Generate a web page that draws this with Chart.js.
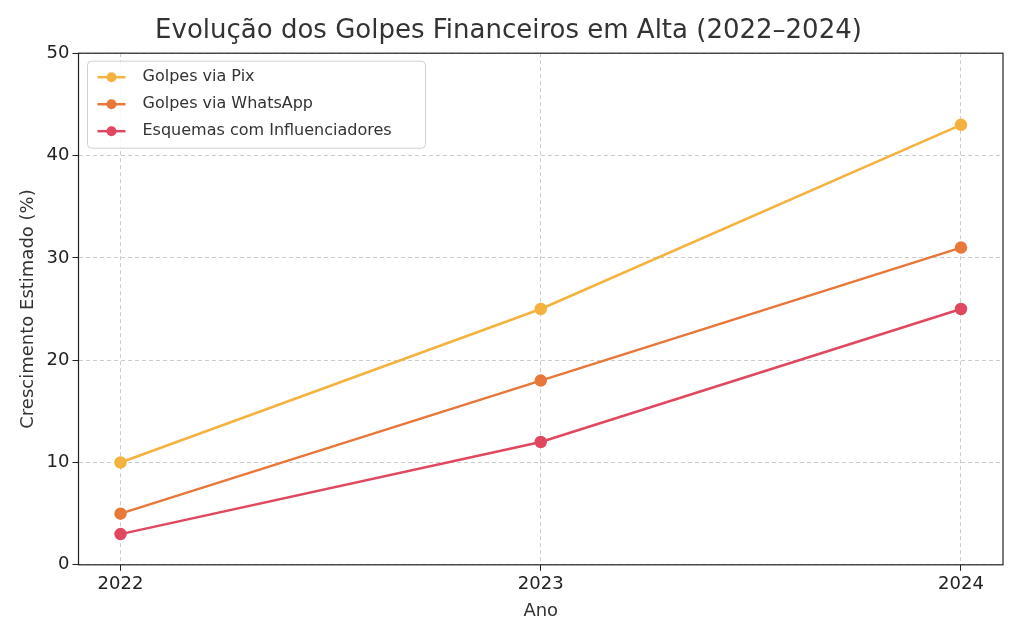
<!DOCTYPE html>
<html>
<head>
<meta charset="utf-8">
<script src="https://cdn.jsdelivr.net/npm/chart.js@4.4.0/dist/chart.umd.min.js"></script>
<style>
  html, body { margin: 0; padding: 0; background: #fff; }
  #wrap { width: 1024px; height: 634px; }
</style>
</head>
<body>
<div id="wrap"><canvas id="chart"></canvas></div>
<script>
// Data
const years = [2022, 2023, 2024];
const pixValues = [10, 25, 43];
const whatsappValues = [5, 18, 31];
const influencerValues = [3, 12, 25];
const seriesLabels = ['Golpes via Pix', 'Golpes via WhatsApp', 'Esquemas com Influenciadores'];
const seriesColors = ['#F4B23E', '#E8773A', '#E0485F'];

const FONT = "'DejaVu Sans', sans-serif";

function toPoints(values) {
  return years.map((y, i) => ({ x: y, y: values[i] }));
}

// Legend box inside the plot, top left
const boxLegend = {
  id: 'boxLegend',
  afterDraw(chart) {
    const { ctx, chartArea } = chart;
    const x0 = chartArea.left + 9, y0 = chartArea.top + 8;
    const w = 338, rowH = 27, h = rowH * chart.data.datasets.length + 6;
    ctx.save();
    ctx.fillStyle = 'rgba(255,255,255,0.85)';
    ctx.strokeStyle = '#d0d0d0';
    ctx.lineWidth = 1;
    ctx.beginPath();
    ctx.roundRect(x0, y0, w, h, 4);
    ctx.fill();
    ctx.stroke();
    ctx.font = `16px ${FONT}`;
    ctx.textBaseline = 'middle';
    chart.data.datasets.forEach((ds, i) => {
      const cy = y0 + 16 + i * rowH;
      ctx.strokeStyle = ds.borderColor;
      ctx.lineWidth = 2.5;
      ctx.beginPath();
      ctx.moveTo(x0 + 10, cy);
      ctx.lineTo(x0 + 38, cy);
      ctx.stroke();
      ctx.fillStyle = ds.borderColor;
      ctx.beginPath();
      ctx.arc(x0 + 24, cy, 5, 0, Math.PI * 2);
      ctx.fill();
      ctx.fillStyle = '#333';
      ctx.fillText(ds.label, x0 + 55, cy);
    });
    ctx.restore();
  }
};

// Black frame around the plot
const frame = {
  id: 'frame',
  afterDatasetsDraw(chart) {
    const { ctx, chartArea: a } = chart;
    ctx.save();
    ctx.strokeStyle = '#222';
    ctx.lineWidth = 1.2;
    ctx.strokeRect(a.left, a.top, a.right - a.left, a.bottom - a.top);
    ctx.restore();
  }
};

new Chart(document.getElementById('chart'), {
  type: 'line',
  data: {
    datasets: [pixValues, whatsappValues, influencerValues].map((v, i) => ({
      label: seriesLabels[i],
      data: toPoints(v),
      borderColor: seriesColors[i],
      backgroundColor: seriesColors[i],
      borderWidth: 2.5,
      pointRadius: 5,
      pointHoverRadius: 5,
      tension: 0
    }))
  },
  options: {
    responsive: true,
    maintainAspectRatio: false,
    animation: false,
    layout: { padding: { left: 14, right: 21, top: 12, bottom: 8 } },
    plugins: {
      legend: { display: false },
      tooltip: { enabled: false },
      title: {
        display: true,
        text: 'Evolução dos Golpes Financeiros em Alta (2022–2024)',
        color: '#333',
        font: { family: FONT, size: 26, weight: 'normal' },
        padding: { top: 4, bottom: 6 }
      }
    },
    scales: {
      x: {
        type: 'linear',
        min: 2021.9,
        max: 2024.1,
        afterBuildTicks: (axis) => { axis.ticks = years.map(v => ({ value: v })); },
        grid: { color: '#cccccc', tickColor: '#222', tickLength: 6 },
        border: { display: false, dash: [4, 3] },
        ticks: { color: '#222', font: { family: FONT, size: 18 }, callback: v => String(v) },
        title: { display: true, text: 'Ano', color: '#333', font: { family: FONT, size: 18 }, padding: { top: 2 } }
      },
      y: {
        min: 0,
        max: 50,
        ticks: { stepSize: 10, color: '#222', font: { family: FONT, size: 18 } },
        grid: { color: '#cccccc', tickColor: '#222', tickLength: 6 },
        border: { display: false, dash: [4, 3] },
        title: { display: true, text: 'Crescimento Estimado (%)', color: '#333', font: { family: FONT, size: 18 } }
      }
    }
  },
  plugins: [frame, boxLegend]
});
</script>
</body>
</html>
